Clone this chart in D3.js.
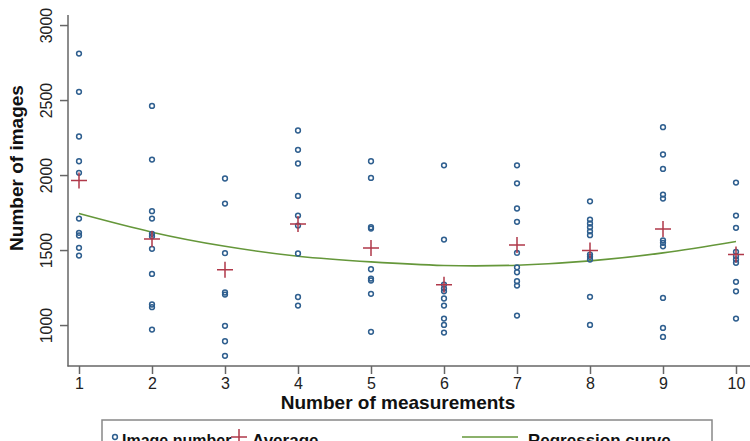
<!DOCTYPE html>
<meta charset="utf-8">
<style>
body { margin: 0; background: #fff; }
text { font-family: "Liberation Sans", Arial, sans-serif; fill: #222; }
.title { font-weight: bold; font-size: 19px; fill: #111; }
.tick text { font-size: 16px; }
.legend text { font-weight: bold; font-size: 17px; fill: #111; }
</style>
<svg width="750" height="441"></svg>
<script src="https://d3js.org/d3.v7.min.js"></script>
<script>

// measurements (x) and image counts per measurement
let measurements = [1, 2, 3, 4, 5, 6, 7, 8, 9, 10];
let imageNumbers = [
  [2810, 2555, 2257, 2092, 2015, 1710, 1615, 1597, 1515, 1463],
  [2461, 2103, 1759, 1710, 1608, 1592, 1508, 1341, 1137, 1119, 970],
  [1977, 1810, 1479, 1217, 1203, 995, 892, 795],
  [2297, 2168, 2077, 1861, 1730, 1663, 1477, 1187, 1130],
  [2092, 1981, 1652, 1643, 1372, 1310, 1297, 1208, 955],
  [2065, 1570, 1270, 1243, 1225, 1177, 1130, 1043, 1001, 950],
  [2065, 1945, 1777, 1688, 1481, 1385, 1352, 1292, 1263, 1063],
  [1825, 1703, 1677, 1652, 1625, 1599, 1470, 1455, 1437, 1188, 1001],
  [2319, 2137, 2041, 1870, 1843, 1565, 1548, 1525, 1181, 981, 921],
  [1950, 1730, 1648, 1488, 1459, 1437, 1415, 1288, 1225, 1043]
];
let averages = [1963, 1574, 1368, 1674, 1514, 1268, 1534, 1497, 1641, 1470];
let regression = [1743, 1619, 1525, 1459, 1421, 1397, 1399, 1428, 1481, 1557];
let yTicks = [1000, 1500, 2000, 2500, 3000];

let svg = d3.select('svg');
let blue = '#2f5f8f', red = '#b0394a', green = '#65973a', axisCol = '#666';

let x = d3.scaleLinear().domain([1, 10]).range([79, 736]);
let y = d3.scaleLinear().domain([727, 3067]).range([366, 15]);

// axes
let yAxis = svg.append('g').attr('transform', 'translate(68,0)')
  .call(d3.axisLeft(y).tickValues(yTicks).tickFormat(d3.format('d')).tickSize(8).tickSizeOuter(0));
yAxis.select('.domain').remove();
yAxis.selectAll('.tick line').attr('stroke', axisCol).attr('stroke-width', 1.5);
yAxis.selectAll('.tick text')
  .attr('transform', 'rotate(-90,-22,0)')
  .attr('x', -22).attr('y', 0).attr('dy', '0.35em')
  .style('text-anchor', 'middle');

let xAxis = svg.append('g').attr('transform', 'translate(0,366)')
  .call(d3.axisBottom(x).tickValues(measurements).tickSize(8).tickPadding(4));
xAxis.select('.domain').remove();
xAxis.selectAll('.tick line').attr('stroke', axisCol).attr('stroke-width', 1.5);

svg.append('line').attr('x1', 68).attr('x2', 68).attr('y1', 15).attr('y2', 366.5)
  .attr('stroke', axisCol).attr('stroke-width', 1.5);
svg.append('line').attr('x1', 67.5).attr('x2', 750).attr('y1', 366).attr('y2', 366)
  .attr('stroke', axisCol).attr('stroke-width', 1.5);

// titles
svg.append('text').attr('class', 'title')
  .attr('transform', 'translate(23,168) rotate(-90)')
  .attr('text-anchor', 'middle').text('Number of images');
svg.append('text').attr('class', 'title')
  .attr('x', 398).attr('y', 409)
  .attr('text-anchor', 'middle').text('Number of measurements');

// regression curve
svg.append('path')
  .datum(regression)
  .attr('fill', 'none').attr('stroke', green).attr('stroke-width', 1.6)
  .attr('d', d3.line().x((d, i) => x(measurements[i])).y(d => y(d)).curve(d3.curveNatural));

// points
let pts = [];
imageNumbers.forEach((col, i) => col.forEach(v => pts.push({ m: measurements[i], v: v })));
svg.append('g').selectAll('circle')
  .data(pts).join('circle')
  .attr('cx', d => x(d.m)).attr('cy', d => y(d.v)).attr('r', 2.4)
  .attr('fill', 'none').attr('stroke', blue).attr('stroke-width', 1.5);

// averages
let cross = (cx, cy, s) => `M${cx - s},${cy}H${cx + s}M${cx},${cy - s}V${cy + s}`;
svg.append('g').selectAll('path')
  .data(averages).join('path')
  .attr('d', (d, i) => cross(x(measurements[i]), y(d), 8))
  .attr('stroke', red).attr('stroke-width', 1.5).attr('fill', 'none');

// legend
let lg = svg.append('g').attr('class', 'legend');
lg.append('rect').attr('x', 102).attr('y', 420).attr('width', 610).attr('height', 40)
  .attr('fill', 'none').attr('stroke', '#888').attr('stroke-width', 1.5);
lg.append('circle').attr('cx', 115).attr('cy', 437).attr('r', 2.4)
  .attr('fill', 'none').attr('stroke', blue).attr('stroke-width', 1.5);
lg.append('text').attr('x', 122).attr('y', 446).style('font-size', '16px').text('Image number');
lg.append('path').attr('d', cross(239, 437, 8))
  .attr('stroke', red).attr('stroke-width', 1.5);
lg.append('text').attr('x', 252).attr('y', 446).text('Average');
lg.append('line').attr('x1', 462).attr('x2', 518).attr('y1', 437).attr('y2', 437)
  .attr('stroke', green).attr('stroke-width', 1.6);
lg.append('text').attr('x', 528).attr('y', 446).text('Regression curve');

</script>
